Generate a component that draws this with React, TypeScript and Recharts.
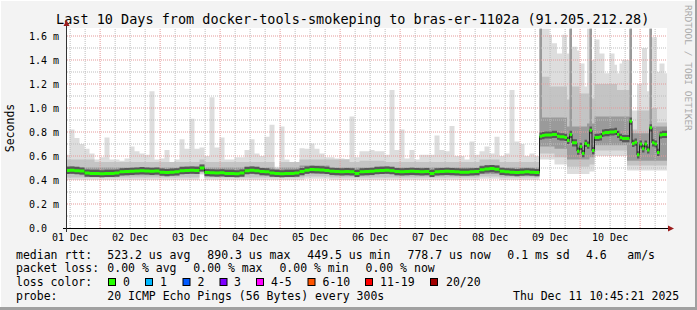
import React from 'react';
import { ComposedChart, Area, Line, XAxis, YAxis, CartesianGrid, ReferenceLine } from 'recharts';

// time axis: hours since Mon Dec 01 10:45, labels sit at noon
const dayLabels = ['01 Dec', '02 Dec', '03 Dec', '04 Dec', '05 Dec', '06 Dec', '07 Dec', '08 Dec', '09 Dec', '10 Dec'];
const dayTicks = [1.25, 25.25, 49.25, 73.25, 97.25, 121.25, 145.25, 169.25, 193.25, 217.25];
const yTicks = [0, 0.2, 0.4, 0.6, 0.8, 1.0, 1.2, 1.4, 1.6];
const yLabels = ['0.0  ', '0.2 m', '0.4 m', '0.6 m', '0.8 m', '1.0 m', '1.2 m', '1.4 m', '1.6 m'];

// Dec 01 - Dec 08: 2 hour steps (ms)
const leftMed = [
  0.48, 0.482, 0.478, 0.475, 0.458, 0.455, 0.455, 0.452, 0.455, 0.455,
  0.458, 0.468, 0.47, 0.472, 0.475, 0.478, 0.475, 0.472, 0.475, 0.465,
  0.462, 0.465, 0.468, 0.478, 0.48, 0.482, 0.48, 0.5, 0.462, 0.46,
  0.458, 0.46, 0.455, 0.455, 0.452, 0.458, 0.478, 0.482, 0.478, 0.47,
  0.468, 0.458, 0.455, 0.452, 0.455, 0.455, 0.458, 0.47, 0.482, 0.488,
  0.486, 0.484, 0.48, 0.472, 0.47, 0.468, 0.47, 0.468, 0.455, 0.468,
  0.47, 0.472, 0.478, 0.48, 0.482, 0.478, 0.47, 0.468, 0.47, 0.472,
  0.47, 0.468, 0.47, 0.455, 0.468, 0.47, 0.472, 0.47, 0.468, 0.465,
  0.465, 0.468, 0.47, 0.485, 0.492, 0.495, 0.49, 0.472, 0.468, 0.465,
  0.462, 0.465, 0.468, 0.465, 0.462,
];
const leftMax = [
  0.61, 0.82, 0.75, 0.7, 0.66, 0.62, 0.57, 0.59, 0.755, 0.57,
  0.57, 0.56, 0.58, 0.68, 0.64, 0.62, 0.61, 1.14, 0.57, 0.58,
  0.65, 0.55, 0.57, 0.74, 0.66, 0.91, 0.66, 0.67, 0.6, 1.09,
  0.67, 0.755, 0.57, 0.57, 0.59, 0.59, 0.65, 0.74, 0.62, 0.6,
  0.76, 0.86, 0.51, 0.845, 0.57, 0.55, 0.55, 0.665, 0.66, 0.705,
  0.66, 0.62, 0.59, 0.59, 0.58, 0.58, 0.575, 0.93, 0.59, 0.64,
  0.64, 0.65, 0.64, 0.64, 0.61, 1.15, 0.65, 0.82, 0.58, 0.65,
  0.57, 0.61, 0.61, 0.61, 0.77, 0.65, 0.64, 0.85, 0.6, 0.6,
  0.57, 0.72, 0.61, 0.64, 0.68, 0.62, 0.76, 0.6, 0.62, 1.15,
  0.72, 0.7, 0.6, 0.62, 0.6,
];
const leftP90 = [
  0.57, 0.57, 0.57, 0.57, 0.57, 0.57, 0.55, 0.55, 0.55, 0.55,
  0.55, 0.55, 0.55, 0.55, 0.55, 0.55, 0.55, 0.55, 0.55, 0.55,
  0.55, 0.55, 0.55, 0.55, 0.55, 0.55, 0.55, 0.57, 0.55, 0.55,
  0.55, 0.55, 0.55, 0.55, 0.55, 0.55, 0.55, 0.55, 0.55, 0.55,
  0.55, 0.55, 0.5, 0.55, 0.55, 0.55, 0.55, 0.57, 0.57, 0.57,
  0.57, 0.57, 0.57, 0.57, 0.57, 0.57, 0.57, 0.55, 0.55, 0.56,
  0.56, 0.56, 0.56, 0.56, 0.55, 0.55, 0.55, 0.55, 0.55, 0.55,
  0.55, 0.55, 0.55, 0.55, 0.55, 0.55, 0.55, 0.55, 0.55, 0.55,
  0.55, 0.55, 0.55, 0.57, 0.57, 0.57, 0.57, 0.55, 0.55, 0.55,
  0.55, 0.55, 0.55, 0.55, 0.55,
];
const leftP75 = [
  0.515, 0.515, 0.515, 0.505, 0.505, 0.505, 0.505, 0.505, 0.505, 0.505,
  0.505, 0.505, 0.505, 0.505, 0.505, 0.505, 0.505, 0.505, 0.505, 0.505,
  0.505, 0.505, 0.505, 0.515, 0.515, 0.515, 0.515, 0.53, 0.505, 0.505,
  0.505, 0.505, 0.505, 0.505, 0.505, 0.505, 0.515, 0.515, 0.515, 0.505,
  0.505, 0.505, 0.49, 0.505, 0.505, 0.505, 0.505, 0.52, 0.52, 0.52,
  0.52, 0.52, 0.52, 0.505, 0.505, 0.505, 0.505, 0.505, 0.505, 0.505,
  0.505, 0.505, 0.515, 0.515, 0.515, 0.515, 0.505, 0.505, 0.505, 0.505,
  0.505, 0.505, 0.505, 0.505, 0.505, 0.505, 0.505, 0.505, 0.505, 0.505,
  0.505, 0.505, 0.505, 0.52, 0.52, 0.52, 0.52, 0.505, 0.505, 0.505,
  0.505, 0.505, 0.505, 0.505, 0.505,
];
const leftP25 = [
  0.45, 0.45, 0.45, 0.44, 0.435, 0.435, 0.435, 0.435, 0.435, 0.435,
  0.435, 0.44, 0.44, 0.44, 0.44, 0.44, 0.44, 0.44, 0.44, 0.44,
  0.44, 0.44, 0.44, 0.45, 0.45, 0.45, 0.45, 0.47, 0.44, 0.44,
  0.44, 0.44, 0.435, 0.435, 0.435, 0.435, 0.45, 0.45, 0.45, 0.44,
  0.44, 0.435, 0.435, 0.435, 0.435, 0.435, 0.435, 0.44, 0.45, 0.45,
  0.45, 0.45, 0.45, 0.44, 0.44, 0.44, 0.44, 0.44, 0.435, 0.44,
  0.44, 0.44, 0.45, 0.45, 0.45, 0.45, 0.44, 0.44, 0.44, 0.44,
  0.44, 0.44, 0.44, 0.435, 0.44, 0.44, 0.44, 0.44, 0.44, 0.44,
  0.44, 0.44, 0.44, 0.45, 0.45, 0.45, 0.45, 0.44, 0.44, 0.44,
  0.44, 0.44, 0.44, 0.44, 0.44,
];
const leftP10 = [
  0.42, 0.42, 0.42, 0.42, 0.42, 0.42, 0.42, 0.42, 0.42, 0.42,
  0.42, 0.42, 0.42, 0.42, 0.42, 0.42, 0.42, 0.42, 0.42, 0.42,
  0.42, 0.42, 0.42, 0.42, 0.42, 0.42, 0.42, 0.455, 0.42, 0.42,
  0.42, 0.42, 0.42, 0.42, 0.42, 0.42, 0.42, 0.42, 0.42, 0.42,
  0.42, 0.42, 0.42, 0.42, 0.42, 0.42, 0.42, 0.42, 0.43, 0.43,
  0.43, 0.43, 0.43, 0.42, 0.42, 0.42, 0.42, 0.42, 0.42, 0.42,
  0.42, 0.42, 0.42, 0.42, 0.42, 0.42, 0.42, 0.42, 0.42, 0.42,
  0.42, 0.42, 0.42, 0.42, 0.42, 0.42, 0.42, 0.42, 0.42, 0.42,
  0.42, 0.42, 0.42, 0.43, 0.43, 0.43, 0.43, 0.42, 0.42, 0.42,
  0.42, 0.42, 0.42, 0.42, 0.42,
];
const leftMin = [
  0.4, 0.4, 0.4, 0.4, 0.4, 0.4, 0.4, 0.4, 0.4, 0.4,
  0.4, 0.4, 0.4, 0.4, 0.4, 0.4, 0.4, 0.4, 0.4, 0.4,
  0.4, 0.4, 0.4, 0.4, 0.4, 0.4, 0.4, 0.445, 0.4, 0.4,
  0.4, 0.4, 0.4, 0.4, 0.4, 0.4, 0.4, 0.4, 0.4, 0.4,
  0.4, 0.4, 0.4, 0.4, 0.4, 0.4, 0.4, 0.4, 0.41, 0.41,
  0.41, 0.41, 0.41, 0.4, 0.4, 0.4, 0.4, 0.4, 0.4, 0.4,
  0.4, 0.4, 0.4, 0.4, 0.4, 0.4, 0.4, 0.4, 0.4, 0.4,
  0.4, 0.4, 0.4, 0.4, 0.4, 0.4, 0.4, 0.4, 0.4, 0.4,
  0.4, 0.4, 0.4, 0.41, 0.41, 0.41, 0.41, 0.4, 0.4, 0.4,
  0.4, 0.4, 0.4, 0.4, 0.4,
];

// Dec 09 - Dec 11: hourly steps (ms)
const rightMed = [
  0.765, 0.77, 0.775, 0.775, 0.775, 0.78, 0.78, 0.765, 0.76, 0.76,
  0.755, 0.73, 0.78, 0.71, 0.71, 0.64, 0.68, 0.62, 0.705, 0.69,
  0.815, 0.645, 0.755, 0.755, 0.76, 0.79, 0.795, 0.795, 0.8, 0.8,
  0.805, 0.78, 0.755, 0.745, 0.745, 0.745, 0.89, 0.705, 0.715, 0.61,
  0.7, 0.66, 0.7, 0.65, 0.835, 0.71, 0.7, 0.63, 0.775, 0.78,
  0.78,
];
const rightMax = [
  1.66, 1.66, 1.66, 1.66, 1.61, 1.54, 1.54, 1.455, 1.455, 1.61,
  1.61, 1.455, 1.66, 1.51, 1.51, 1.48, 1.37, 1.37, 1.18, 1.66,
  1.66, 1.4, 1.57, 1.57, 1.455, 1.455, 1.29, 1.29, 1.455, 1.455,
  1.36, 1.29, 1.37, 1.4, 1.4, 1.4, 1.66, 0.98, 0.98, 1.2,
  1.2, 1.5, 1.5, 1.14, 1.66, 1.59, 1.59, 1.3, 1.37, 1.37,
  1.29,
];
const rightP90 = [
  1.66, 1.26, 1.26, 1.26, 1.18, 1.18, 1.18, 1.18, 1.18, 1.18,
  1.18, 1.07, 1.66, 1.18, 1.18, 1.18, 1.12, 1.12, 1.12, 1.12,
  1.66, 1.08, 1.2, 1.2, 1.2, 1.2, 1.2, 1.2, 1.2, 1.2,
  1.2, 1.15, 1.15, 1.15, 1.15, 1.15, 1.66, 0.82, 0.82, 0.98,
  0.98, 0.98, 0.98, 0.98, 1.66, 1.0, 1.0, 0.88, 0.88, 0.88,
  0.88,
];
const rightP75 = [
  1.66, 0.92, 0.92, 0.92, 0.92, 0.92, 0.92, 0.92, 0.92, 0.92,
  0.92, 0.845, 1.66, 0.845, 0.845, 0.845, 0.845, 0.845, 0.845, 0.87,
  1.66, 0.87, 0.93, 0.93, 0.93, 0.93, 0.93, 0.93, 0.93, 0.93,
  0.93, 0.93, 0.93, 0.93, 0.93, 0.93, 1.66, 0.79, 0.79, 0.79,
  0.79, 0.79, 0.79, 0.79, 1.66, 0.845, 0.845, 0.845, 0.845, 0.845,
  0.845,
];
const rightP25 = [
  0.68, 0.68, 0.68, 0.68, 0.68, 0.68, 0.66, 0.66, 0.66, 0.66,
  0.66, 0.57, 0.57, 0.57, 0.57, 0.57, 0.57, 0.57, 0.57, 0.57,
  0.59, 0.59, 0.69, 0.69, 0.69, 0.69, 0.69, 0.69, 0.69, 0.69,
  0.69, 0.69, 0.69, 0.69, 0.69, 0.56, 0.56, 0.56, 0.56, 0.56,
  0.56, 0.56, 0.56, 0.56, 0.56, 0.56, 0.56, 0.56, 0.56, 0.56,
  0.56,
];
const rightP10 = [
  0.62, 0.62, 0.62, 0.62, 0.62, 0.62, 0.59, 0.59, 0.59, 0.59,
  0.59, 0.51, 0.51, 0.51, 0.51, 0.51, 0.51, 0.51, 0.51, 0.51,
  0.53, 0.53, 0.645, 0.645, 0.645, 0.645, 0.645, 0.645, 0.645, 0.645,
  0.645, 0.645, 0.645, 0.645, 0.645, 0.52, 0.52, 0.52, 0.52, 0.52,
  0.52, 0.52, 0.52, 0.52, 0.52, 0.52, 0.52, 0.52, 0.52, 0.52,
  0.52,
];
const rightMin = [
  0.57, 0.57, 0.57, 0.57, 0.57, 0.57, 0.53, 0.53, 0.53, 0.53,
  0.53, 0.45, 0.45, 0.45, 0.45, 0.45, 0.45, 0.45, 0.45, 0.45,
  0.47, 0.47, 0.6, 0.6, 0.6, 0.6, 0.6, 0.6, 0.6, 0.6,
  0.6, 0.6, 0.6, 0.6, 0.6, 0.48, 0.48, 0.48, 0.48, 0.48,
  0.48, 0.48, 0.48, 0.48, 0.48, 0.48, 0.48, 0.48, 0.48, 0.48,
  0.48,
];

const lossColors = [
  { label: '0', color: '#26ff00', box: 108, text: 123 },
  { label: '1', color: '#00b8ff', box: 145, text: 160 },
  { label: '2', color: '#0059ff', box: 182.5, text: 197.5 },
  { label: '3', color: '#7e00ff', box: 219.5, text: 234 },
  { label: '4-5', color: '#ff00ff', box: 256, text: 271 },
  { label: '6-10', color: '#ff5500', box: 307.5, text: 322.5 },
  { label: '11-19', color: '#ff0000', box: 365, text: 380 },
  { label: '20/20', color: '#a10000', box: 430, text: 446 },
];

// consolidation step starts (hours)
const starts = [
  ...leftMed.map((_, i) => 2 * i - 1),
  ...rightMed.map((_, j) => 189 + j),
];
const med = [...leftMed, ...rightMed];
const mx = [...leftMax, ...rightMax];
const p90 = [...leftP90, ...rightP90];
const p75 = [...leftP75, ...rightP75];
const p25 = [...leftP25, ...rightP25];
const p10 = [...leftP10, ...rightP10];
const mn = [...leftMin, ...rightMin];

const rows = starts.map((t, k) => ({
  t,
  med: med[k],
  outer: [mn[k], mx[k]],
  mid: [p10[k], p90[k]],
  inner: [p25[k], p75[k]],
}));
rows.push({ ...rows[rows.length - 1], t: 240 });

const minorX = Array.from({ length: 40 }, (_, k) => 1.25 + 6 * k).filter((h) => (h - 13.25) % 24 !== 0);
const majorX = Array.from({ length: 10 }, (_, k) => 13.25 + 24 * k);
const minorY = [0.1, 0.3, 0.5, 0.7, 0.9, 1.1, 1.3, 1.5];
const majorY = [0.2, 0.4, 0.6, 0.8, 1.0, 1.2, 1.4, 1.6];

const MONO = "'DejaVu Sans Mono', monospace";

function YTick(props: any) {
  const { x, y, payload } = props;
  const label = yLabels[yTicks.indexOf(payload.value)];
  return (
    <text x={x} y={y} dy="0.355em" textAnchor="end" fontFamily={MONO} fontSize={10} fill="#000"
      xmlSpace="preserve" style={{ whiteSpace: 'pre' }}>
      {label}
    </text>
  );
}

export default function App() {
  const legendText = { fontFamily: MONO, fontSize: 11.5, fill: '#000' } as const;
  return (
    <div style={{ position: 'absolute', left: 0, top: 0, width: 697, height: 310, background: '#f3f3f3', overflow: 'hidden' }}>
      <ComposedChart width={697} height={310} data={rows} margin={{ top: 28, right: 30, bottom: 62, left: 7 }}>
        <CartesianGrid horizontal={false} vertical={false} fill="#ffffff" stroke="none" />
        <XAxis dataKey="t" type="number" domain={[0, 240]} allowDataOverflow ticks={dayTicks} interval={0}
          tickFormatter={(v: number) => dayLabels[dayTicks.indexOf(v)]}
          axisLine={false} tickLine={false} tickSize={4} tickMargin={2} height={20}
          tick={{ fontFamily: MONO, fontSize: 10, fill: '#000' }} />
        <YAxis type="number" domain={[0, 1.6667]} allowDataOverflow ticks={yTicks} interval={0}
          axisLine={false} tickLine={false} width={60} tick={<YTick />} />
        <Area dataKey="outer" type="stepAfter" fill="#dddddd" fillOpacity={1} stroke="none" isAnimationActive={false} dot={false} activeDot={false} />
        <Area dataKey="mid" type="stepAfter" fill="#c4c4c4" fillOpacity={1} stroke="none" isAnimationActive={false} dot={false} activeDot={false} />
        <Area dataKey="inner" type="stepAfter" fill="#9a9a9a" fillOpacity={1} stroke="none" isAnimationActive={false} dot={false} activeDot={false} />
        {minorX.map((h) => (
          <ReferenceLine key={`vx${h}`} x={h} stroke="#bdbdbd" strokeDasharray="1 1" zIndex={150} />
        ))}
        {minorY.map((v) => (
          <ReferenceLine key={`vy${v}`} y={v} stroke="#bdbdbd" strokeDasharray="1 1" zIndex={150} />
        ))}
        {majorX.map((h) => (
          <ReferenceLine key={`mx${h}`} x={h} stroke="#e59a9a" strokeDasharray="1 1" zIndex={150} />
        ))}
        {majorY.map((v) => (
          <ReferenceLine key={`my${v}`} y={v} stroke="#e59a9a" strokeDasharray="1 1" zIndex={150} />
        ))}
        <Area dataKey={(d: any) => [d.med - 0.03, d.med + 0.03]} type="stepAfter" fill="#585858" fillOpacity={1}
          stroke="none" isAnimationActive={false} dot={false} activeDot={false} zIndex={160} />
        <Line dataKey="med" type="stepAfter" stroke="#202020" strokeWidth={1} dot={false} activeDot={false}
          isAnimationActive={false} zIndex={400} />
        <Area dataKey={(d: any) => [d.med - 0.0125, d.med + 0.0125]} type="stepAfter" fill="#26ff00" fillOpacity={1}
          stroke="none" isAnimationActive={false} dot={false} activeDot={false} zIndex={450} />
      </ComposedChart>

      <svg width={697} height={310} style={{ position: 'absolute', left: 0, top: 0, pointerEvents: 'none' }}>
        <rect x={0} y={0} width={697} height={1} fill="#ffffff" />
        <rect x={0} y={0} width={1} height={310} fill="#ffffff" />
        <rect x={695} y={0} width={2} height={310} fill="#a0a0a0" />
        <rect x={0} y={307} width={697} height={3} fill="#a0a0a0" />

        <text x={56} y={24} fontFamily={MONO} fontSize={13.5} fill="#000">
          Last 10 Days from docker-tools-smokeping to bras-er-1102a (91.205.212.28)
        </text>
        <text transform="translate(13.5,128) rotate(-90)" textAnchor="middle" fontFamily={MONO} fontSize={11.5} fill="#000">
          Seconds
        </text>
        <text transform="translate(685,5) rotate(90)" fontFamily={MONO} fontSize={9.5} fill="#a8a8a8">
          RRDTOOL / TOBI OETIKER
        </text>

        <line x1={63} y1={228.5} x2={669} y2={228.5} stroke="#000" strokeWidth={1} />
        <line x1={66.5} y1={232} x2={66.5} y2={25} stroke="#333" strokeWidth={1} />
        <polygon points="63.5,26 69.5,26 66.5,20" fill="#9b1c1c" />
        <polygon points="668,225.5 668,231.5 674,228.5" fill="#9b1c1c" />

        <text x={16} y={258.5} {...legendText}>median rtt:</text>
        <text x={107.3} y={258.5} {...legendText}>523.2 us avg</text>
        <text x={207.3} y={258.5} {...legendText}>890.3 us max</text>
        <text x={307.3} y={258.5} {...legendText}>449.5 us min</text>
        <text x={407.5} y={258.5} {...legendText}>778.7 us now</text>
        <text x={507.3} y={258.5} {...legendText}>0.1 ms sd</text>
        <text x={586} y={258.5} {...legendText}>4.6</text>
        <text x={627.3} y={258.5} {...legendText}>am/s</text>

        <text x={16} y={272} {...legendText}>packet loss:</text>
        <text x={107.3} y={272} {...legendText}>0.00 % avg</text>
        <text x={193.3} y={272} {...legendText}>0.00 % max</text>
        <text x={279.4} y={272} {...legendText}>0.00 % min</text>
        <text x={365.5} y={272} {...legendText}>0.00 % now</text>

        <text x={16} y={285.8} {...legendText}>loss color:</text>
        {lossColors.map((c) => (
          <g key={c.label}>
            <rect x={c.box + 0.5} y={278.5} width={7} height={7} fill={c.color} stroke="#000" strokeWidth={1} />
            <text x={c.text} y={285.8} {...legendText}>{c.label}</text>
          </g>
        ))}

        <text x={16} y={299.5} {...legendText}>probe:</text>
        <text x={107.3} y={299.5} {...legendText}>20 ICMP Echo Pings (56 Bytes) every 300s</text>
        <text x={513} y={299.5} {...legendText}>Thu Dec 11 10:45:21 2025</text>
      </svg>
    </div>
  );
}
